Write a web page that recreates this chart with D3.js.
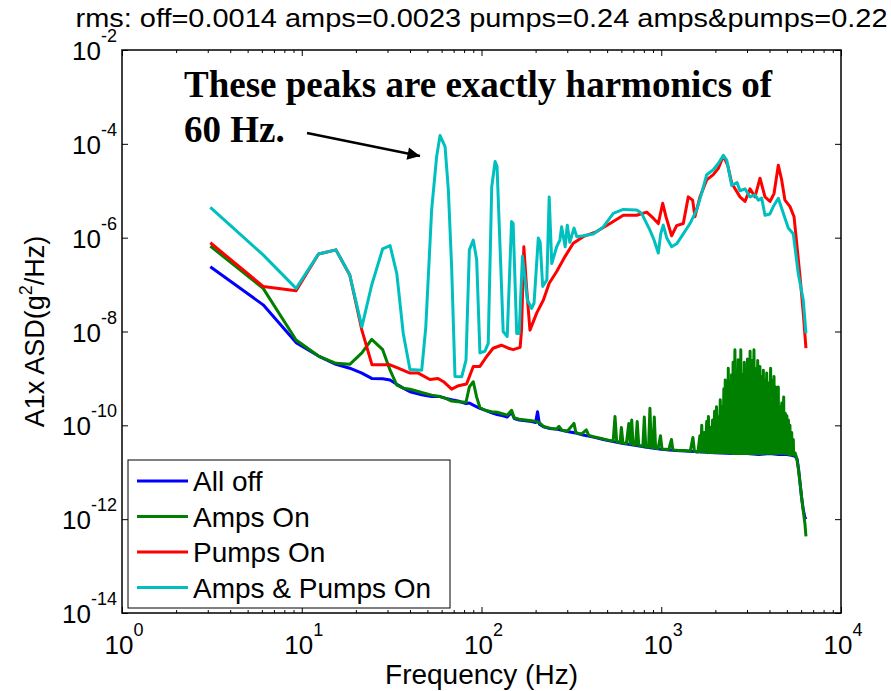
<!DOCTYPE html>
<html>
<head>
<meta charset="utf-8">
<script src="https://cdn.jsdelivr.net/npm/d3@7"></script>
<style>
  body { margin: 0; background: #fff; }
  text { font-family: "Liberation Sans", Arial, sans-serif; fill: #000; }
  text.note { font-family: "Liberation Serif", "Times New Roman", serif; font-weight: bold; }
</style>
</head>
<body>
<div id="chart"></div>
<script>
// ---- DATA (frequency Hz, ASD g^2/Hz) ----
const seriesNames = ["All off", "Amps On", "Pumps On", "Amps & Pumps On"];
const seriesColors = ["#0000ff", "#008000", "#ff0000", "#00bfbf"];

const allOff = [
  [3.1,2.4e-7],[6.1,3.7e-8],[9.3,5.8e-9],[12.4,3e-9],[15.5,2e-9],[18.5,1.65e-9],[21.6,1.3e-9],
  [24.5,1e-9],[28.2,9.8e-10],[31,9.3e-10],[33.8,7.5e-10],[36.7,6.2e-10],[40,5.2e-10],[46.5,4.5e-10],
  [52.8,4.1e-10],[58.8,4.1e-10],[62.7,3.8e-10],[68.2,3.5e-10],[74,3.3e-10],[82,2.9e-10],[85.6,3e-10],
  [90,2.7e-10],[98,2.3e-10],[104.5,2.1e-10],[114,1.85e-10],[122,1.7e-10],[132,1.6e-10],[139,1.5e-10],
  [147,1.9e-10],[152,1.4e-10],[162,1.3e-10],[176,1.25e-10],[190,1.2e-10],[200,1.15e-10],[205,1.95e-10],
  [210,1.05e-10],[221,9.3e-11],[238,8.6e-11],[262,8.3e-11],[300,7.4e-11],[340,6.8e-11],[368,6.2e-11],
  [420,5.6e-11],[476,5e-11],[541,4.5e-11],[615,4.1e-11],[700,3.8e-11],[830,3.4e-11],[1000,3.1e-11],
  [1200,2.9e-11],[1450,2.8e-11],[1700,2.7e-11],[2000,2.6e-11],[2500,2.5e-11],[3000,2.5e-11],
  [3500,2.4e-11],[4000,2.5e-11],[4500,2.4e-11],[5000,2.4e-11],[5300,2.3e-11],[5550,2.2e-11],
  [5700,1.9e-11],[5800,1.2e-11],[5915,6e-12],[6030,3e-12],[6166,1.6e-12],[6300,1.1e-12],[6383,1e-12]
];

const ampsOn = [
  [3.1,6.6e-7],[6.1,8.3e-8],[9.3,6.6e-9],[12.4,3e-9],[15.5,2.1e-9],[18.5,2e-9],[21.6,3.5e-9],
  [24.5,6.8e-9],[28.2,4.1e-9],[31,1.5e-9],[33.8,7.2e-10],[36.7,6.2e-10],[40,5.9e-10],[46.5,5e-10],
  [52.8,4.4e-10],[58.8,4.1e-10],[62.7,3.8e-10],[68.2,3.3e-10],[74,3.2e-10],[82,3.1e-10],[85.6,6.6e-10],
  [90,8.5e-10],[94,4e-10],[98,2.4e-10],[104.5,2.1e-10],[114,1.95e-10],[122,1.9e-10],[132,1.75e-10],
  [139,1.65e-10],[147,2.1e-10],[152,1.45e-10],[162,1.35e-10],[176,1.3e-10],[190,1.25e-10],[203,1.2e-10],
  [212,1.1e-10],[221,9.5e-11],[238,8.8e-11],[250,8.5e-11],[262,8.4e-11],[270,9.5e-11],[280,7.9e-11],
  [300,7.5e-11],[327,1.1e-10],[335,7e-11],[360,6.5e-11],[383,8e-11],[395,6.1e-11],[420,5.7e-11],
  [450,5.4e-11],[476,5.1e-11],[500,4.9e-11],[540,4.6e-11],[553,1.55e-10],[565,4.5e-11],[590,4.3e-11],
  [600,9e-11],[612,4.2e-11],[640,4.1e-11],[660,1.1e-10],[672,4e-11],[685,1.3e-10],[697,3.9e-11],
  [720,3.8e-11],[735,1.2e-10],[750,3.7e-11],[790,3.6e-11],[805,1.5e-10],[820,3.5e-11],[850,3.4e-11],
  [865,2.3e-10],[880,3.4e-11],[900,3.3e-11],[915,1.5e-10],[930,3.3e-11],[960,3.2e-11],[990,6e-11],
  [1010,3.1e-11],[1060,3.1e-11],[1100,3e-11],[1140,5e-11],[1160,3e-11],[1250,2.9e-11],
  [1350,2.9e-11],[1450,2.8e-11],[1500,5.5e-11],[1530,2.8e-11],[1580,2.7e-11],
  [1600,2.7e-11],[1640,6e-11],[1660,2.7e-11],[1680,1e-10],[1700,2.7e-11],[1740,7e-11],[1760,2.7e-11],
  [1790,1.2e-10],[1810,2.6e-11],[1830,1.55e-10],[1850,2.6e-11],[1880,9e-11],[1900,2.6e-11],[1930,1.3e-10],
  [1950,2.6e-11],[1980,2e-10],[2000,2.6e-11],[2030,2.5e-10],[2050,2.6e-11],[2080,1.5e-10],[2100,2.6e-11],
  [2130,3.5e-10],[2150,2.6e-11],[2180,2.5e-10],[2200,2.6e-11],[2230,6e-10],[2250,2.6e-11],[2270,9.3e-10],
  [2290,2.6e-11],[2320,5e-10],[2340,2.6e-11],[2360,1.65e-9],[2380,2.6e-11],[2410,8e-10],[2430,2.6e-11],
  [2460,1.2e-9],[2480,2.5e-11],[2510,2.2e-9],[2530,2.5e-11],[2570,4.1e-9],[2590,2.5e-11],[2620,1.5e-9],
  [2640,2.5e-11],[2680,2.5e-9],[2700,2.5e-11],[2740,1.8e-9],[2755,2.5e-11],[2770,4.1e-9],[2800,2.5e-11],
  [2840,1.2e-9],[2860,2.5e-11],[2900,2.2e-9],[2920,2.5e-11],[2960,1.5e-9],[2980,2.5e-11],[3020,2.6e-9],
  [3040,2.5e-11],[3080,1.8e-9],[3100,2.5e-11],[3120,3.8e-9],[3150,2.5e-11],[3200,2.4e-9],[3220,2.5e-11],
  [3280,4.1e-9],[3300,2.5e-11],[3360,1.6e-9],[3380,2.5e-11],[3440,2.4e-9],[3460,2.5e-11],[3540,1.8e-9],
  [3560,2.5e-11],[3620,1.1e-9],[3640,2.5e-11],[3700,1.5e-9],[3720,2.5e-11],[3780,9e-10],[3800,2.5e-11],
  [3860,1.3e-9],[3880,2.5e-11],[3940,8e-10],[3960,2.5e-11],[4060,1.65e-9],[4080,2.5e-11],[4150,9e-10],
  [4170,2.5e-11],[4240,1.1e-9],[4260,2.5e-11],[4330,6.6e-10],[4350,2.5e-11],[4400,5e-10],[4420,2.5e-11],
  [4480,6.6e-10],[4500,2.5e-11],[4570,2.5e-10],[4590,2.5e-11],[4680,3e-10],[4700,2.5e-11],[4800,4e-10],
  [4820,2.5e-11],[4900,1.8e-10],[4920,2.5e-11],[5000,1.6e-10],[5020,2.5e-11],[5100,1.3e-10],[5120,2.4e-11],
  [5200,1e-10],[5220,2.4e-11],[5320,7e-11],[5340,2.4e-11],[5430,5e-11],[5450,2.3e-11],[5550,2.6e-11],
  [5670,2e-11],[5790,1.2e-11],[5915,6e-12],[6030,3e-12],[6166,1.5e-12],[6300,8e-13],[6383,4.3e-13]
];

const pumpsOn = [
  [3.1,7.8e-7],[6.1,9.1e-8],[9.3,7.4e-8],[12.4,4.5e-7],[15.5,5.5e-7],[18.5,1.6e-7],[21.6,1.07e-8],
  [24.6,1.95e-9],[31,1.95e-9],[34.4,1.65e-9],[40,1.3e-9],[44.5,1.3e-9],[51.6,9.5e-10],[57.3,1e-9],
  [61.5,8.5e-10],[68.2,5.9e-10],[74.5,7e-10],[82.6,7.6e-10],[90,1.8e-9],[98,1.8e-9],[106.6,2.9e-9],
  [116,4.4e-9],[129,5.1e-9],[141,4.4e-9],[150,4.1e-9],[164,4.6e-9],[167,1.07e-8],[172,6.4e-7],
  [178,9e-8],[186,1.07e-8],[203,2.5e-8],[221,4.7e-8],[238,1.07e-7],[262,1.9e-7],[292,4e-7],
  [324,7.6e-7],[368,1.05e-6],[437,1.35e-6],[519,2e-6],[615,3e-6],[730,3e-6],[830,3.5e-6],
  [903,2.6e-6],[963,2e-6],[1019,5.4e-6],[1062,2.8e-6],[1142,1.1e-6],[1218,1.8e-6],[1326,2e-6],
  [1414,7.4e-6],[1495,6.3e-6],[1540,2.8e-6],[1642,7.4e-6],[1790,1.7e-5],[1948,2.2e-5],[2077,3e-5],
  [2215,5.5e-5],[2342,3.5e-5],[2466,1.45e-5],[2742,7.4e-6],[2924,5.9e-6],[3118,1.1e-5],[3324,7.4e-6],
  [3543,1.85e-5],[3777,7.4e-6],[4027,5.9e-6],[4240,8.7e-6],[4480,3.5e-5],[4677,1.7e-5],[4877,6.3e-6],
  [5204,4.6e-6],[5479,2.8e-6],[5670,7.6e-7],[5915,1.5e-7],[6166,2.5e-8],[6383,4.4e-9]
];

const ampsPumpsOn = [
  [3.1,4.4e-6],[6.1,4.3e-7],[9.3,8.3e-8],[12.4,4.5e-7],[15.5,5.5e-7],[18.5,1.6e-7],[21.6,1.26e-8],
  [24.5,9.8e-8],[28.2,5.8e-7],[31,6.8e-7],[33.8,1.7e-7],[36.7,9.1e-9],[40,1.55e-9],[46.5,1.5e-9],
  [49,1.26e-8],[52.8,3.9e-6],[56.3,5.4e-5],[58.8,1.5e-4],[62.7,8.7e-5],[65.4,1.04e-5],[68.2,2.4e-7],
  [71.2,1.1e-9],[77.6,1.08e-9],[82,2.45e-9],[85.6,5.5e-7],[90,8.9e-7],[94,3.4e-7],[98,3.5e-9],
  [104.5,3.8e-9],[109,5.6e-9],[114,1.2e-5],[119,4.2e-5],[122,3.3e-5],[127,5.5e-7],[132,1e-8],
  [139,7.8e-9],[147,2.2e-6],[150,2e-6],[157,9.1e-9],[162,9.1e-9],[169,4e-7],[180,4.7e-8],[190,3.1e-8],
  [196,4e-8],[207,9.8e-7],[212,8e-7],[219,9.1e-8],[231,1.26e-7],[238,7.4e-6],[246,2.8e-7],[262,6.4e-7],
  [273,8.9e-7],[279,1.7e-6],[292,6.4e-7],[300,1.85e-6],[310,8e-7],[327,1.6e-6],[339,1.05e-6],
  [368,1.1e-6],[419,1.2e-6],[476,1.7e-6],[541,3.3e-6],[615,4e-6],[730,3.9e-6],[778,3.3e-6],
  [865,1.45e-6],[912,8.9e-7],[963,4.7e-7],[993,1.2e-6],[1026,1.85e-6],[1072,1e-6],[1142,6.4e-7],
  [1218,7.4e-7],[1326,1.2e-6],[1445,2e-6],[1574,3.9e-6],[1679,8.9e-6],[1790,2.2e-5],[1948,2.8e-5],
  [2077,3.8e-5],[2215,5.7e-5],[2313,4.5e-5],[2412,2e-5],[2466,1.3e-5],[2640,1.5e-5],[2742,1e-5],
  [2924,1.1e-5],[3118,7.4e-6],[3324,8.2e-6],[3469,6.3e-6],[3620,7e-6],[3777,3e-6],[4027,3.2e-6],
  [4200,4.6e-6],[4480,6.9e-6],[4776,3.3e-6],[5090,1.6e-6],[5430,1.2e-6],[5786,1.7e-7],[6166,4.7e-8],
  [6383,9.1e-9]
];

const xMajorTicks = [1, 10, 100, 1000, 10000];
const xTickExps = ["0", "1", "2", "3", "4"];
const yMajorTicks = [1e-14, 1e-12, 1e-10, 1e-8, 1e-6, 1e-4, 1e-2];
const yTickExps = ["-14", "-12", "-10", "-8", "-6", "-4", "-2"];

const titleText = "rms: off=0.0014 amps=0.0023 pumps=0.24 amps&pumps=0.22";
const noteLines = ["These peaks are exactly harmonics of", "60 Hz."];

// ---- SETUP ----
const width = 891, height = 691;
const margin = { top: 50, right: 50, bottom: 78, left: 122 };

const svg = d3.select("#chart").append("svg")
  .attr("width", width)
  .attr("height", height);

svg.append("rect").attr("width", width).attr("height", height).attr("fill", "#fff");

const x = d3.scaleLog()
  .domain([1, 1e4])
  .range([margin.left, width - margin.right]);

const y = d3.scaleLog()
  .domain([1e-14, 1e-2])
  .range([height - margin.bottom, margin.top]);

const x0 = x.range()[0], x1 = x.range()[1];
const y0 = y.range()[0], y1 = y.range()[1];

// minor x ticks 2..9 in each decade
const xMinorTicks = [];
for (let d = 0; d < 4; d++) {
  for (let k = 2; k <= 9; k++) xMinorTicks.push(k * Math.pow(10, d));
}

// ---- LINES ----
const line = d3.line()
  .x(d => x(d[0]))
  .y(d => y(d[1]));

const allSeries = [allOff, ampsOn, pumpsOn, ampsPumpsOn];
svg.append("g").selectAll("path")
  .data(allSeries)
  .enter()
  .append("path")
  .attr("d", line)
  .attr("fill", "none")
  .attr("stroke", (d, i) => seriesColors[i])
  .attr("stroke-width", 3)
  .attr("stroke-linejoin", "round");

// ---- AXES (ticks inward, all four sides) ----
function styleAxis(g) {
  g.select(".domain").remove();
  g.selectAll("line").attr("stroke", "#000").attr("stroke-width", 1);
}

svg.append("g").attr("transform", `translate(0,${y0})`)
  .call(d3.axisBottom(x).tickValues(xMajorTicks).tickSize(-6).tickFormat(""))
  .call(styleAxis);
svg.append("g").attr("transform", `translate(0,${y0})`)
  .call(d3.axisBottom(x).tickValues(xMinorTicks).tickSize(-3).tickFormat(""))
  .call(styleAxis);
svg.append("g").attr("transform", `translate(0,${y1})`)
  .call(d3.axisTop(x).tickValues(xMajorTicks).tickSize(-6).tickFormat(""))
  .call(styleAxis);
svg.append("g").attr("transform", `translate(0,${y1})`)
  .call(d3.axisTop(x).tickValues(xMinorTicks).tickSize(-3).tickFormat(""))
  .call(styleAxis);
svg.append("g").attr("transform", `translate(${x0},0)`)
  .call(d3.axisLeft(y).tickValues(yMajorTicks).tickSize(-6).tickFormat(""))
  .call(styleAxis);
svg.append("g").attr("transform", `translate(${x1},0)`)
  .call(d3.axisRight(y).tickValues(yMajorTicks).tickSize(-6).tickFormat(""))
  .call(styleAxis);

svg.append("rect")
  .attr("x", x0).attr("y", y1)
  .attr("width", x1 - x0).attr("height", y0 - y1)
  .attr("fill", "none").attr("stroke", "#000").attr("stroke-width", 1.5);

// ---- TICK LABELS ----
const xLab = svg.append("g").selectAll("text")
  .data(xMajorTicks)
  .enter()
  .append("text")
  .attr("x", d => x(d) + 2)
  .attr("y", y0 + 41)
  .attr("text-anchor", "middle")
  .attr("font-size", 26);
xLab.append("tspan").text("10");
xLab.append("tspan").attr("dy", -18).attr("font-size", 18).text((d, i) => xTickExps[i]);

const yLab = svg.append("g").selectAll("text")
  .data(yMajorTicks)
  .enter()
  .append("text")
  .attr("x", x0 - 5)
  .attr("y", d => y(d) + 10)
  .attr("text-anchor", "end")
  .attr("font-size", 26);
yLab.append("tspan").text("10");
yLab.append("tspan").attr("dy", -18).attr("font-size", 18).text((d, i) => yTickExps[i]);

// ---- AXIS LABELS + TITLE ----
svg.append("text")
  .attr("x", (x0 + x1) / 2)
  .attr("y", 684)
  .attr("text-anchor", "middle")
  .attr("font-size", 28)
  .text("Frequency (Hz)");

const yTitle = svg.append("text")
  .attr("transform", `translate(44,${(y0 + y1) / 2}) rotate(-90)`)
  .attr("text-anchor", "middle")
  .attr("font-size", 27);
yTitle.append("tspan").text("A1x ASD(g");
yTitle.append("tspan").attr("dy", -12).attr("font-size", 18).text("2");
yTitle.append("tspan").attr("dy", 12).text("/Hz)");

svg.append("text")
  .attr("x", (x0 + x1) / 2)
  .attr("y", 27)
  .attr("text-anchor", "middle")
  .attr("font-size", 26)
  .attr("textLength", 812)
  .attr("lengthAdjust", "spacingAndGlyphs")
  .text(titleText);

// ---- ANNOTATION ----
svg.selectAll("text.note")
  .data(noteLines)
  .enter()
  .append("text")
  .attr("class", "note")
  .attr("x", 184)
  .attr("y", (d, i) => 97 + i * 45)
  .attr("font-size", 37)
  .text(d => d);

svg.append("defs").append("marker")
  .attr("id", "arrow")
  .attr("viewBox", "0 0 10 10")
  .attr("refX", 10).attr("refY", 5)
  .attr("markerWidth", 7).attr("markerHeight", 5)
  .attr("markerUnits", "strokeWidth")
  .attr("orient", "auto")
  .append("path")
  .attr("d", "M0,0 L10,5 L0,10 Z")
  .attr("fill", "#000");

svg.append("line")
  .attr("x1", 307).attr("y1", 133)
  .attr("x2", 420).attr("y2", 156)
  .attr("stroke", "#000").attr("stroke-width", 2.5)
  .attr("marker-end", "url(#arrow)");

// ---- LEGEND ----
const legend = svg.append("g").attr("transform", "translate(128,460)");
legend.append("rect")
  .attr("width", 322).attr("height", 148)
  .attr("fill", "#fff").attr("stroke", "#000").attr("stroke-width", 1);

const item = legend.selectAll("g.item")
  .data(seriesNames)
  .enter()
  .append("g")
  .attr("class", "item")
  .attr("transform", (d, i) => `translate(0,${21 + i * 35.5})`);

item.append("line")
  .attr("x1", 9).attr("x2", 60)
  .attr("stroke", (d, i) => seriesColors[i])
  .attr("stroke-width", 3);

item.append("text")
  .attr("x", 65)
  .attr("y", 10)
  .attr("font-size", 28)
  .text(d => d);
</script>
</body>
</html>
